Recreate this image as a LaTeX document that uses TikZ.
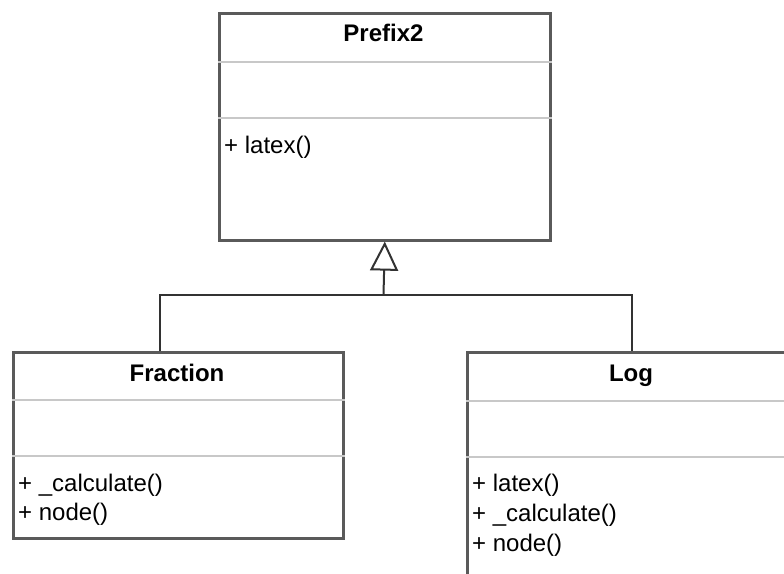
\documentclass[tikz,border=0pt]{standalone}
\usepackage{fontspec}
\setmainfont{Liberation Sans}
\usetikzlibrary{arrows.meta}
\definecolor{boxline}{RGB}{90,90,90}
\definecolor{sepline}{RGB}{200,200,200}
\definecolor{connline}{RGB}{50,50,50}
\tikzset{
  classbox/.style={draw=boxline, line width=2.6pt, fill=white, rectangle,
    anchor=north west, inner sep=0pt},
  sepbar/.style={draw=sepline, line width=2pt},
  classname/.style={font=\fontsize{24}{29}\selectfont\bfseries, anchor=base, inner sep=0pt},
  member/.style={font=\fontsize{24}{29}\selectfont, anchor=base west, inner sep=0pt},
  conn/.style={draw=connline, line width=2pt},
  inherit/.style={-{Triangle[open, length=29pt, width=28pt, line width=2pt]}}
}
\begin{document}
\begin{tikzpicture}[x=1pt, y=-1pt]
  \useasboundingbox (0,0) rectangle (784,573);
  \clip (0,0) rectangle (784,573);
  \fill[white] (0,0) rectangle (784,573);

  % superclass
  \node[classbox, minimum width=331pt, minimum height=227pt] (prefix) at (218,12) {};
  \draw[sepbar] (prefix.west |- 0,62) -- (prefix.east |- 0,62);
  \draw[sepbar] (prefix.west |- 0,118) -- (prefix.east |- 0,118);
  \node[classname] (prefixname) at (383.5,41) {Prefix2};
  \node[member] (prefixlatex) at (224,153.5) {+ latex()};

  % Fraction
  \node[classbox, minimum width=330pt, minimum height=186pt] (fraction) at (12,351) {};
  \draw[sepbar] (fraction.west |- 0,400) -- (fraction.east |- 0,400);
  \draw[sepbar] (fraction.west |- 0,456) -- (fraction.east |- 0,456);
  \node[classname] (fractionname) at (177,381) {Fraction};
  \node[member] (fractioncalc) at (18,491.5) {+ \_calculate()};
  \node[member] (fractionnode) at (18,520.5) {+ node()};

  % Log
  \node[classbox, minimum width=330pt, minimum height=250pt] (log) at (466,351) {};
  \draw[sepbar] (log.west |- 0,401) -- (log.east |- 0,401);
  \draw[sepbar] (log.west |- 0,457) -- (log.east |- 0,457);
  \node[classname] (logname) at (631,381) {Log};
  \node[member] (loglatex) at (472,491.5) {+ latex()};
  \node[member] (logcalc) at (472,521.5) {+ \_calculate()};
  \node[member] (lognode) at (472,551.5) {+ node()};

  % generalisation tree
  \coordinate (fracport) at (160,351);
  \coordinate (logport) at (632,351);
  \coordinate (busjoin) at (383.5,295);
  \draw[conn] (fracport) |- (busjoin) -| (logport);
  \draw[conn, inherit] (busjoin) -- (prefix.south);
\end{tikzpicture}
\end{document}
